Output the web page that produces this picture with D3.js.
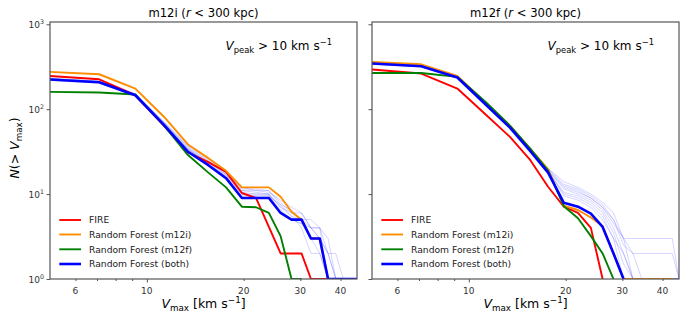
<!DOCTYPE html>
<html>
<head>
<meta charset="utf-8">
<script src="https://cdn.jsdelivr.net/npm/d3@7"></script>
<style>
  body { margin: 0; background: #fff; }
  text { font-family: "DejaVu Sans", sans-serif; }
</style>
</head>
<body>
<svg id="chart" width="690" height="322"></svg>
<script>
// Vmax grid (km/s) shared by every curve
const vmaxGrid = [5.00, 7.11, 9.21, 11.32, 13.42, 15.53, 17.63, 19.74, 21.84, 23.95,
                  26.05, 28.16, 30.26, 32.37, 34.47, 36.58, 38.68, 40.79, 42.89, 45.00];

const seriesLabels = ['FIRE', 'Random Forest (m12i)', 'Random Forest (m12f)', 'Random Forest (both)'];
const seriesColors = ['#ff0000', '#ff8c00', '#008000', '#0000ff'];

// m12i panel, N(>Vmax); 0 = not drawn
const m12iFire  = [246, 225, 146, 63, 31, 23.8, 18.3, 10.3, 9, 4.1, 2, 2, 2, 1, 1, 1, 1, 1, 1, 1];
const m12iRfI   = [275, 258, 175, 81, 38.4, 26.5, 18.8, 12, 12, 12, 9.3, 6.2, 5, 3, 3, 1, 1, 1, 1, 1];
const m12iRfF   = [160, 157, 149, 64, 28.8, 17.9, 12, 7.1, 7, 6, 3.2, 1, 1, 0, 0, 0, 0, 0, 0, 0];
const m12iRfAll = [224, 208, 146, 65, 31.5, 21.9, 15.4, 9, 9, 9, 6, 5, 5, 3, 3, 1, 1, 1, 1, 1];
const m12iRuns = [
  [228, 212, 150, 68, 34, 24, 17, 10, 10, 10, 7, 6, 5, 4, 4, 2, 1, 1, 1, 1],
  [220, 204, 145, 66, 33, 23, 16.5, 11, 11, 11, 8, 6, 6, 4, 3, 2, 1, 1, 1, 1],
  [232, 215, 152, 70, 35, 24.5, 17.5, 11.5, 11.5, 11, 7.5, 5.5, 5, 5, 4, 1, 1, 1, 1, 1],
  [218, 202, 143, 64, 32, 22.5, 16, 9.5, 9.5, 9.5, 6.5, 5, 4.5, 3, 2, 1, 1, 1, 1, 1],
  [226, 210, 149, 69, 36, 25, 18, 12, 11, 10.5, 8.5, 7, 6, 4, 4, 3, 1, 1, 1, 1],
  [222, 206, 147, 67, 33.5, 23.5, 17, 10.5, 10, 10, 7, 5.5, 4, 2, 2, 1, 1, 1, 1, 1],
  [230, 213, 151, 71, 37, 26, 19, 11, 10.5, 10, 6, 5, 4.5, 4, 3, 2, 2, 1, 1, 1],
  [224, 208, 146, 66, 34, 23, 16, 10, 9.5, 9.5, 7.5, 6.5, 5, 3, 3, 1, 1, 1, 1, 1]
];

// m12f panel
const m12fFire  = [293, 263, 175, 85.5, 47.2, 25.1, 12.2, 7.1, 6.0, 4.0, 1, 0, 0, 0, 0, 0, 0, 0, 0, 0];
const m12fRfI   = [360, 338, 246, 118, 64, 34, 19.5, 7.3, 6.5, 5.3, 4.2, 2, 1, 1, 1, 1, 1, 1, 1, 0];
const m12fRfF   = [267, 267, 240, 120, 64, 34, 18.9, 7.2, 5.2, 3.2, 2.0, 1, 0, 0, 0, 0, 0, 0, 0, 0];
const m12fRfAll = [345, 321, 236, 112, 60.6, 32, 17.9, 7.9, 7.1, 5.9, 4.1, 2, 1, 0, 0, 0, 0, 0, 0, 0];
const m12fRuns = [
  [350, 326, 242, 118, 64, 35, 20, 14, 12, 10, 8, 6, 3, 3, 3, 3, 3, 3, 3, 1],
  [342, 318, 238, 115, 63, 34, 19.5, 12.5, 11, 9, 7, 5, 3, 2, 2, 2, 2, 2, 2, 1],
  [348, 324, 240, 116, 62, 33.5, 19, 11.5, 10, 8.5, 6.5, 4, 2, 1, 1, 1, 1, 1, 1, 1],
  [338, 316, 234, 113, 61, 33, 18.5, 10.5, 9.5, 8, 6, 3.5, 1.5, 1, 1, 1, 1, 1, 1, 1],
  [352, 328, 244, 120, 65, 35, 20, 13, 11.5, 9.5, 7.5, 5, 2.5, 2, 1, 1, 1, 1, 1, 1],
  [340, 318, 236, 114, 62, 33, 18.5, 10, 9, 7.5, 5.5, 3, 1, 1, 1, 1, 1, 1, 1, 1],
  [346, 322, 239, 117, 63, 34, 19, 9.5, 8.5, 7, 5, 3, 2, 1, 1, 1, 1, 1, 1, 1],
  [344, 320, 237, 115, 62.5, 34, 19, 12, 10.5, 9, 7, 4.5, 3, 1, 1, 1, 1, 1, 1, 1]
];

const xTickLabels = [6, 10, 20, 30, 40];
const xMinorTicks = [6, 7, 8, 9, 20, 30, 40];
const yTickLabels = [1, 10, 100, 1000];

const svg = d3.select('#chart');
const axisGray = '#555';

// mathtext-like helper: parts = [{t, it, sub, sup}]
function addMath(textSel, parts, size) {
  let shift = 0;
  parts.forEach((p) => {
    const span = textSel.append('tspan').text(p.t);
    let target = 0;
    if (p.sub) target = size * 0.22;
    if (p.sup) target = -size * 0.38;
    span.attr('dy', target - shift);
    shift = target;
    if (p.sub || p.sup) span.attr('font-size', size * 0.7);
    if (p.it) span.attr('font-style', 'italic');
  });
}

function renderPanel(box, title, runs, series, showYLabels, clipId) {
  const x = d3.scaleLog().domain([5, 45]).range([box.left, box.right]);
  const y = d3.scaleLog().domain([1, 1064]).range([box.bottom, box.top]);
  const g = svg.append('g');

  g.append('clipPath').attr('id', clipId).append('rect')
    .attr('x', box.left).attr('y', box.top)
    .attr('width', box.right - box.left).attr('height', box.bottom - box.top);

  const line = d3.line()
    .defined((d) => d[1] > 0)
    .x((d) => x(d[0]))
    .y((d) => y(d[1]));

  const lines = g.append('g').attr('clip-path', `url(#${clipId})`);
  runs.forEach((run) => {
    lines.append('path')
      .attr('d', line(vmaxGrid.map((v, i) => [v, run[i]])))
      .attr('fill', 'none').attr('stroke', '#0000ff')
      .attr('stroke-opacity', 0.17).attr('stroke-width', 1);
  });
  series.forEach((vals, k) => {
    lines.append('path')
      .attr('d', line(vmaxGrid.map((v, i) => [v, vals[i]])))
      .attr('fill', 'none').attr('stroke', seriesColors[k])
      .attr('stroke-width', k === 3 ? 2.6 : 1.9)
      .attr('stroke-linejoin', 'round');
  });

  // x axis ticks
  const xAxis = g.append('g').attr('transform', `translate(0,${box.bottom})`);
  xAxis.call(d3.axisBottom(x).tickValues(xMinorTicks).tickSize(2).tickFormat(''));
  xAxis.append('g').call(d3.axisBottom(x).tickValues([10]).tickSize(3.5).tickFormat(''));
  xAxis.selectAll('.domain').remove();
  xAxis.selectAll('line').attr('stroke', axisGray);
  xAxis.selectAll('.lbl').data(xTickLabels).enter().append('text')
    .attr('x', (d) => x(d)).attr('y', 15)
    .attr('text-anchor', 'middle').attr('font-size', 9).attr('fill', '#333')
    .text((d) => d);

  // y axis ticks
  const yAxis = g.append('g').attr('transform', `translate(${box.left},0)`);
  yAxis.call(d3.axisLeft(y).tickValues(yTickLabels).tickSize(3.5).tickFormat(''));
  yAxis.selectAll('.domain').remove();
  yAxis.selectAll('line').attr('stroke', axisGray);
  if (showYLabels) {
    yTickLabels.forEach((d) => {
      const t = yAxis.append('text')
        .attr('x', -6).attr('y', y(d) + 3.5)
        .attr('text-anchor', 'end').attr('font-size', 9).attr('fill', '#333');
      addMath(t, [{ t: '10' }, { t: String(Math.round(Math.log10(d))), sup: true }], 9);
    });
  }

  // frame
  g.append('rect')
    .attr('x', box.left).attr('y', box.top)
    .attr('width', box.right - box.left).attr('height', box.bottom - box.top)
    .attr('fill', 'none').attr('stroke', axisGray).attr('stroke-width', 1.2);

  const cx = (box.left + box.right) / 2;

  // title
  const tt = g.append('text').attr('x', cx).attr('y', 17)
    .attr('text-anchor', 'middle').attr('font-size', 11.6).attr('fill', '#000');
  addMath(tt, [{ t: title + ' (' }, { t: 'r', it: true }, { t: ' < 300 kpc)' }], 11.6);

  // annotation
  const at = g.append('text').attr('x', box.right - 25).attr('y', 50)
    .attr('text-anchor', 'end').attr('font-size', 12).attr('fill', '#000');
  addMath(at, [{ t: 'V', it: true }, { t: 'peak', sub: true }, { t: ' > 10 km s' }, { t: '\u22121', sup: true }], 12);

  // x label
  const xl = g.append('text').attr('x', cx).attr('y', 308)
    .attr('text-anchor', 'middle').attr('font-size', 12.5).attr('fill', '#000');
  addMath(xl, [{ t: 'V', it: true }, { t: 'max', sub: true }, { t: ' [km s' }, { t: '\u22121', sup: true }, { t: ']' }], 12.5);

  // legend
  const rows = [220, 234.5, 249.3, 264];
  seriesLabels.forEach((lab, k) => {
    g.append('line')
      .attr('x1', box.left + 9.3).attr('x2', box.left + 31)
      .attr('y1', rows[k]).attr('y2', rows[k])
      .attr('stroke', seriesColors[k]).attr('stroke-width', k === 3 ? 2.6 : 1.9);
    g.append('text')
      .attr('x', box.left + 39).attr('y', rows[k] + 3.3)
      .attr('font-size', 9.2).attr('fill', '#222')
      .text(lab);
  });
}

renderPanel({ left: 50, right: 357, top: 22, bottom: 279 }, 'm12i', m12iRuns,
  [m12iFire, m12iRfI, m12iRfF, m12iRfAll], true, 'clipLeft');
renderPanel({ left: 372, right: 679, top: 22, bottom: 279 }, 'm12f', m12fRuns,
  [m12fFire, m12fRfI, m12fRfF, m12fRfAll], false, 'clipRight');

// y label
const ylab = svg.append('text')
  .attr('transform', 'translate(19,148) rotate(-90)')
  .attr('text-anchor', 'middle').attr('font-size', 12.5).attr('fill', '#000');
addMath(ylab, [{ t: 'N', it: true }, { t: '(> ' }, { t: 'V', it: true }, { t: 'max', sub: true }, { t: ')' }], 12.5);
</script>
</body>
</html>
